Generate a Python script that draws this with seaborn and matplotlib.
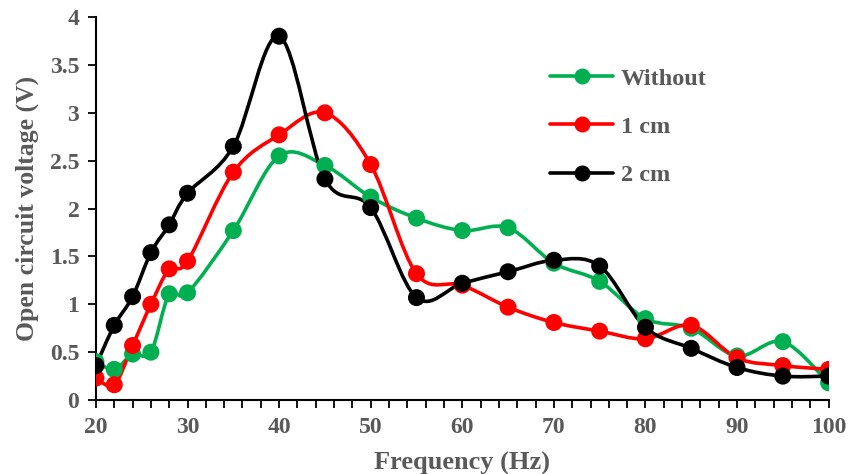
import numpy as np
import pandas as pd
import matplotlib
matplotlib.use('Agg')
import matplotlib.pyplot as plt
from matplotlib.path import Path
from matplotlib.patches import PathPatch
from matplotlib.lines import Line2D
from matplotlib.ticker import MultipleLocator, FormatStrFormatter
import seaborn as sns

sns.set_style('white')
plt.rcParams['font.family'] = ['Liberation Serif', 'DejaVu Serif']
plt.rcParams['font.weight'] = 'bold'

freq = [20, 22, 24, 26, 28, 30, 35, 40, 45, 50, 55, 60, 65, 70, 75, 80, 85, 90, 95, 100]
without = [0.40, 0.32, 0.48, 0.50, 1.11, 1.12, 1.77, 2.55, 2.45, 2.12, 1.90, 1.77, 1.80,
           1.43, 1.24, 0.85, 0.75, 0.46, 0.61, 0.18]
cm1 = [0.23, 0.16, 0.57, 1.00, 1.37, 1.45, 2.38, 2.77, 3.00, 2.46, 1.32, 1.20, 0.97,
       0.81, 0.72, 0.64, 0.78, 0.44, 0.36, 0.32]
cm2 = [0.36, 0.78, 1.08, 1.54, 1.83, 2.16, 2.65, 3.80, 2.31, 2.01, 1.07, 1.22, 1.34,
       1.46, 1.40, 0.76, 0.54, 0.34, 0.25, 0.25]
series = ['Without', '1 cm', '2 cm']
colors = {'Without': '#00B050', '1 cm': '#FF0000', '2 cm': '#000000'}
text_color = '#595959'

df = pd.DataFrame({'Frequency': freq * 3,
                   'Voltage': without + cm1 + cm2,
                   'Series': np.repeat(series, len(freq))})


def smooth_path(x, y, tension=1 / 6):
    # Excel-like smoothed line: Catmull-Rom segments as cubic Bezier curves
    x = np.asarray(x, float)
    y = np.asarray(y, float)
    verts = [(x[0], y[0])]
    codes = [Path.MOVETO]
    n = len(x)
    for i in range(n - 1):
        x0, y0 = (x[i - 1], y[i - 1]) if i > 0 else (x[i], y[i])
        x3, y3 = (x[i + 2], y[i + 2]) if i + 2 < n else (x[i + 1], y[i + 1])
        c1 = (x[i] + (x[i + 1] - x0) * tension, y[i] + (y[i + 1] - y0) * tension)
        c2 = (x[i + 1] - (x3 - x[i]) * tension, y[i + 1] - (y3 - y[i]) * tension)
        verts += [c1, c2, (x[i + 1], y[i + 1])]
        codes += [Path.CURVE4] * 3
    return Path(verts, codes)


fig, ax = plt.subplots(figsize=(8.49, 4.74), dpi=100)
fig.subplots_adjust(left=0.113, right=0.976, bottom=0.156, top=0.964)

for s in series:
    d = df[df['Series'] == s]
    patch = PathPatch(smooth_path(d['Frequency'], d['Voltage']), facecolor='none',
                      edgecolor=colors[s], lw=2.6, zorder=2)
    ax.add_patch(patch)

sns.scatterplot(data=df, x='Frequency', y='Voltage', hue='Series', palette=colors,
                s=150, edgecolor='none', legend=False, ax=ax, zorder=3)

ax.set_xlim(20, 100)
ax.set_ylim(0, 4)
ax.xaxis.set_major_locator(MultipleLocator(10))
ax.xaxis.set_minor_locator(MultipleLocator(2))
ax.yaxis.set_major_locator(MultipleLocator(0.5))
ax.yaxis.set_major_formatter(FormatStrFormatter('%g'))

sns.despine(ax=ax)
for sp in ['left', 'bottom']:
    ax.spines[sp].set_color('black')
    ax.spines[sp].set_linewidth(1.5)

ax.tick_params(axis='both', which='major', direction='out', length=6, width=1.3,
               colors='black', labelcolor=text_color, labelsize=17, pad=6)
ax.tick_params(axis='x', which='minor', direction='out', length=6, width=1.3, colors='black')
ax.tick_params(axis='x', which='both', bottom=True)
ax.tick_params(axis='y', left=True)
for lab in ax.get_xticklabels() + ax.get_yticklabels():
    lab.set_fontweight('bold')

ax.set_xlabel('Frequency (Hz)', fontsize=19, fontweight='bold', color=text_color, labelpad=10)
ax.set_ylabel('Open circuit voltage (V)', fontsize=18.5, fontweight='bold', color=text_color, labelpad=8)

handles = [Line2D([0], [0], color=colors[s], lw=2.6, marker='o', markersize=11.5,
                  markeredgewidth=0) for s in series]
leg = ax.legend(handles, series, loc='upper left', bbox_to_anchor=(0.59, 0.925),
                frameon=False, fontsize=17.5, handlelength=2.6, labelspacing=1.08,
                handletextpad=0.3)
for t in leg.get_texts():
    t.set_color(text_color)
    t.set_fontweight('bold')

fig.savefig('out.png', dpi=100)
